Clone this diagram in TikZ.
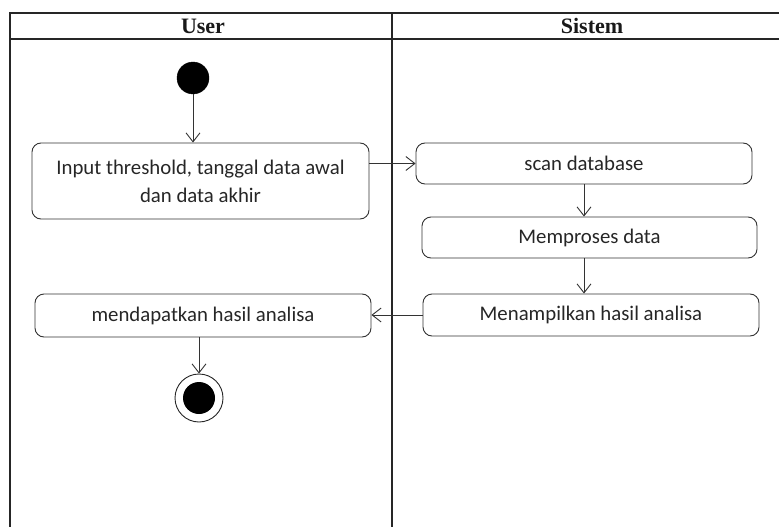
\documentclass[tikz,border=0pt]{standalone}
\usepackage{fontspec}
\setmainfont{Carlito}
\newfontfamily\hdrfont{Liberation Serif}
\usetikzlibrary{arrows.meta}
\begin{document}
\begin{tikzpicture}[x=1pt,y=-1pt,
  lane/.style={line width=1.4pt,draw=black!85},
  act/.style={draw=black!80,line width=0.9pt,rounded corners=9pt,inner sep=0pt,align=center,font=\fontsize{20.8}{28}\selectfont,text=black!85},
  flow/.style={draw=black!80,line width=0.9pt,-{Straight Barb[length=9pt,width=14pt,line width=0.9pt]}},
  hdr/.style={font=\hdrfont\bfseries\fontsize{22}{24}\selectfont,text=black!90}]
\useasboundingbox (0,0) rectangle (779,527);
% swimlane frame
\draw[lane] (10,527) -- (10,13) -- (779,13);
\draw[lane] (10,39) -- (779,39);
\draw[lane] (392,13) -- (392,527);
\node[hdr] (huser) at (203,26) {User};
\node[hdr] (hsis) at (592,26) {Sistem};
% nodes
\node[circle,fill=black,draw=black,minimum size=32pt,inner sep=0pt] (start) at (193,78) {};
\node[act,minimum width=337pt,minimum height=76pt] (input) at (200.5,181) {Input threshold, tanggal data awal\\dan data akhir};
\node[act,minimum width=336pt,minimum height=41pt] (scan) at (584,163.5) {scan database};
\node[act,minimum width=335pt,minimum height=41pt] (proses) at (589.5,237.5) {Memproses data};
\node[act,minimum width=336pt,minimum height=42pt] (tampil) at (591,315) {Menampilkan hasil analisa};
\node[act,minimum width=336pt,minimum height=43pt] (dapat) at (203,315.5) {mendapatkan hasil analisa};
\node[circle,draw=black!85,line width=0.9pt,minimum size=48pt,inner sep=0pt] (end) at (199,398) {};
\node[circle,fill=black,minimum size=32pt,inner sep=0pt] (endin) at (end.center) {};
% connectors
\draw[flow] (start) -- (start |- input.north);
\draw[flow] (input.east |- scan.west) -- (scan.west);
\draw[flow] (scan.south) -- (scan.south |- proses.north);
\draw[flow] (scan.south |- proses.south) -- (scan.south |- tampil.north);
\draw[flow] (tampil.west) -- (tampil.west -| dapat.east);
\draw[flow] (end |- dapat.south) -- (end.north);
\end{tikzpicture}
\end{document}
